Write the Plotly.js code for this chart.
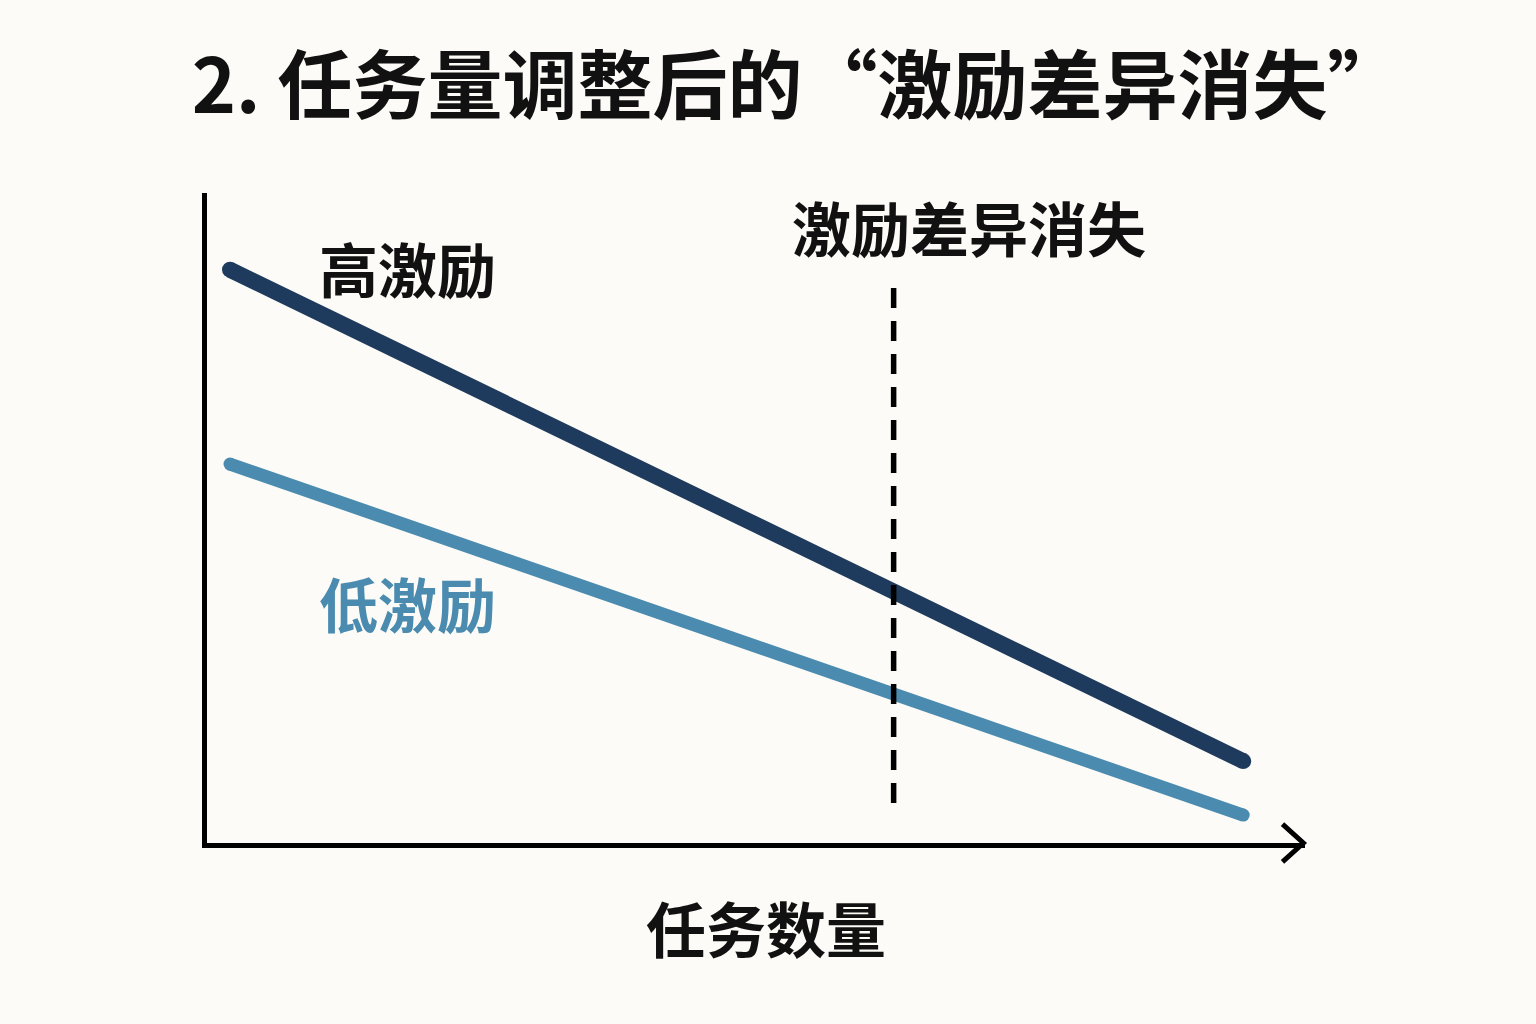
<!DOCTYPE html>
<html>
<head>
<meta charset="utf-8">
<script src="https://cdn.plot.ly/plotly-3.0.1.min.js"></script>
<style>
html,body{margin:0;padding:0;background:#FCFBF7;}
#chart{width:1536px;height:1024px;}
</style>
</head>
<body>
<div id="chart"></div>
<script>
// Data (task quantity vs. performance, schematic)
const taskCounts = [0, 10];
const highIncentive = [88.2, 12.6];
const lowIncentive = [58.3, 4.3];
const vanishX = [6.55, 6.55];
const vanishY = [85.4, 5.1];

const titleText = '2. 任务量调整后的“激励差异消失”';
const highLabel = '高激励';
const lowLabel = '低激励';
const vanishLabel = '激励差异消失';
const xTitle = '任务数量';

const FONT = '"Noto Sans CJK SC", "Noto Sans", sans-serif';
const HIGH_C = '#1E3A5C';
const LOW_C = '#4A8BAF';

const traces = [
  {x: taskCounts, y: highIncentive, mode: 'lines+markers', line: {color: HIGH_C, width: 16},
   marker: {color: HIGH_C, size: 16}, hoverinfo: 'skip'},
  {x: taskCounts, y: lowIncentive, mode: 'lines+markers', line: {color: LOW_C, width: 13},
   marker: {color: LOW_C, size: 13}, hoverinfo: 'skip'},
  {x: vanishX, y: vanishY, mode: 'lines', line: {color: '#000', width: 5.5, dash: '20px,13px'}, hoverinfo: 'skip'}
];

const layout = {
  width: 1536, height: 1024, autosize: false,
  paper_bgcolor: '#FCFBF7', plot_bgcolor: '#FCFBF7',
  margin: {l: 207, r: 231, t: 193, b: 181},
  showlegend: false,
  title: {text: '<b>' + titleText + '</b>', font: {family: FONT, size: 75, color: '#111'},
          x: 0.519, xanchor: 'center', y: 0.915, yanchor: 'middle'},
  xaxis: {range: [-0.227, 10.61], showgrid: false, zeroline: false, showticklabels: false,
          ticks: '', showline: true, linecolor: '#000', linewidth: 5},
  yaxis: {range: [0, 100], showgrid: false, zeroline: false, showticklabels: false,
          ticks: '', showline: true, linecolor: '#000', linewidth: 5},
  shapes: [
    {type: 'path', xref: 'paper', yref: 'paper',
     path: 'M 0.9795 0.029 L 0.9985 0 L 0.9795 -0.029', line: {color: '#000', width: 5}}
  ],
  annotations: [
    {x: 1.75, y: 88.6, xref: 'x', yref: 'y', text: '<b>' + highLabel + '</b>', showarrow: false,
     font: {family: FONT, size: 59, color: '#111'}},
    {x: 1.75, y: 37.0, xref: 'x', yref: 'y', text: '<b>' + lowLabel + '</b>', showarrow: false,
     font: {family: FONT, size: 59, color: LOW_C}},
    {x: 7.29, y: 94.8, xref: 'x', yref: 'y', text: '<b>' + vanishLabel + '</b>', showarrow: false,
     font: {family: FONT, size: 59, color: '#111'}},
    {x: 0.509, y: -0.128, xref: 'paper', yref: 'paper', yanchor: 'middle', text: '<b>' + xTitle + '</b>', showarrow: false,
     font: {family: FONT, size: 60, color: '#111'}}
  ]
};

Plotly.newPlot('chart', traces, layout, {displayModeBar: false, staticPlot: true});
</script>
</body>
</html>
